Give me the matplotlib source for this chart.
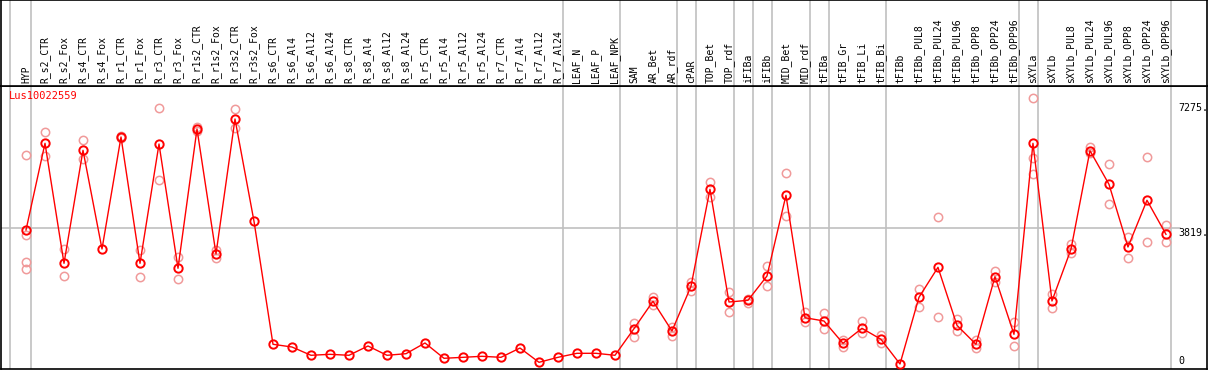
import matplotlib.pyplot as plt

# sample labels
labels = ['HYP', 'R_s2_CTR', 'R_s2_Fox', 'R_s4_CTR', 'R_s4_Fox', 'R_r1_CTR', 'R_r1_Fox',
          'R_r3_CTR', 'R_r3_Fox', 'R_r1s2_CTR', 'R_r1s2_Fox', 'R_r3s2_CTR', 'R_r3s2_Fox',
          'R_s6_CTR', 'R_s6_Al4', 'R_s6_Al12', 'R_s6_Al24', 'R_s8_CTR', 'R_s8_Al4',
          'R_s8_Al12', 'R_s8_Al24', 'R_r5_CTR', 'R_r5_Al4', 'R_r5_Al12', 'R_r5_Al24',
          'R_r7_CTR', 'R_r7_Al4', 'R_r7_Al12', 'R_r7_Al24', 'LEAF_N', 'LEAF_P', 'LEAF_NPK',
          'SAM', 'AR_Bet', 'AR_rdf', 'cPAR', 'TOP_Bet', 'TOP_rdf', 'iFIBa', 'iFIBb',
          'MID_Bet', 'MID_rdf', 'tFIBa', 'tFIB_Gr', 'tFIB_Li', 'tFIB_Bi', 'tFIBb',
          'tFIBb_PUL8', 'tFIBb_PUL24', 'tFIBb_PUL96', 'tFIBb_OPP8', 'tFIBb_OPP24', 'tFIBb_OPP96',
          'sXYLa', 'sXYLb', 'sXYLb_PUL8', 'sXYLb_PUL24', 'sXYLb_PUL96', 'sXYLb_OPP8',
          'sXYLb_OPP24', 'sXYLb_OPP96']

# mean expression per sample
means = [3763, 6160, 2842, 5966, 3238, 6335, 2842, 6141, 2704, 6556, 3100, 6832, 4004,
         603, 528, 299, 326, 299, 556, 299, 343, 639, 216, 243, 271, 243, 500, 105, 243,
         354, 354, 299,
         1035, 1792, 971, 2206, 4888, 1772, 1819, 2491, 4722, 1338, 1247, 630, 1045, 741, 58,
         1902, 2731, 1128, 603, 2472, 879,
         6160, 1800, 3229, 5956, 5027, 3293, 4584, 3644]

# replicates (index, value)
rep_idx = [0, 0, 0, 0, 1, 1, 2, 2, 3, 3, 5, 5, 6, 6, 7, 7, 8, 8, 9, 9, 10, 10, 11, 11,
           32, 32, 33, 33, 34, 34, 35, 35, 36, 36, 37, 37, 38, 38, 39, 39, 40, 40, 41, 41,
           42, 42, 43, 43, 44, 44, 45, 45, 47, 47, 48, 48, 49, 49, 50, 50, 51, 51, 52, 52,
           53, 53, 53, 54, 54, 55, 55, 56, 56, 57, 57, 58, 58, 59, 59, 60, 60]
rep_val = [5836, 3625, 2887, 2676, 6464, 5818, 3229, 2491, 6252, 5717, 6362, 6298, 3210, 2455,
           7128, 5137, 3025, 2400, 6603, 6509, 3210, 2981, 7117, 6575,
           1200, 796, 1902, 1698, 1090, 841, 2334, 2085, 5090, 4684, 2049, 1488, 1855, 1736,
           2768, 2215, 5331, 4150, 1488, 1228, 1460, 1018, 722, 537, 1247, 907, 860, 647,
           2123, 1643, 4114, 1349, 1294, 962, 722, 509, 2630, 2317, 1228, 547,
           7405, 5762, 5303, 1994, 1615, 3368, 3119, 6050, 5900, 5588, 4474, 3578, 2981,
           5773, 3423, 3901, 3423]

# group separators (drawn right after these samples)
sep_after = [0, 28, 31, 34, 35, 37, 38, 39, 41, 42, 45, 52, 53, 60]
ref_levels = [7275, 3819]

W, H = 1209, 370
fig = plt.figure(figsize=(W / 100, H / 100), dpi=100)

x0, x1 = -1.316, 62.16
y_top, y_bot = 85.5, 369
ax = fig.add_axes([1 / W, (H - y_bot) / H, 1206 / W, (y_bot - y_top) / H])
hd = fig.add_axes([1 / W, (H - y_top) / H, 1206 / W, y_top / H], sharex=ax)

xs = list(range(len(labels)))
ax.set_xlim(x0, x1)
ax.set_ylim(-80, 7758)
hd.set_ylim(0, 1)

for a in (ax, hd):
    a.set_xticks([])
    a.set_yticks([])
    for s in a.spines.values():
        s.set_color('black')
        s.set_linewidth(1.2)
    for i in sep_after:
        a.axvline(i + 0.25, color='#c0c0c0', lw=1.2, zorder=0)
    a.axvline(-0.84, color='#c0c0c0', lw=1.2, zorder=0)

ax.axhline(ref_levels[1], xmax=(60.75 - x0) / (x1 - x0), color='#c0c0c0', lw=1.2, zorder=0)

ax.plot(rep_idx, rep_val, 'o', ms=6, mfc='none', mec='#f09a9a', mew=1.1, zorder=2)
ax.plot(xs, means, '-', color='red', lw=1.0, zorder=3)
ax.plot(xs, means, 'o', ms=6, mfc='none', mec='red', mew=1.4, zorder=4)

for i, lab in enumerate(labels):
    hd.text(i, 0.03, lab, rotation=90, ha='center', va='bottom',
            family='DejaVu Sans Mono', fontsize=7)

for v in ref_levels:
    ax.text(60.63, v, f'{v}.', ha='left', va='top', family='DejaVu Sans Mono', fontsize=7.2)
ax.text(60.63, 0, '0', ha='left', va='bottom', family='DejaVu Sans Mono', fontsize=7.2)

ax.text(-0.9, 7460, 'Lus10022559', color='red', ha='left', va='center',
        family='DejaVu Sans Mono', fontsize=7.5)

fig.savefig('out.png', dpi=100)
